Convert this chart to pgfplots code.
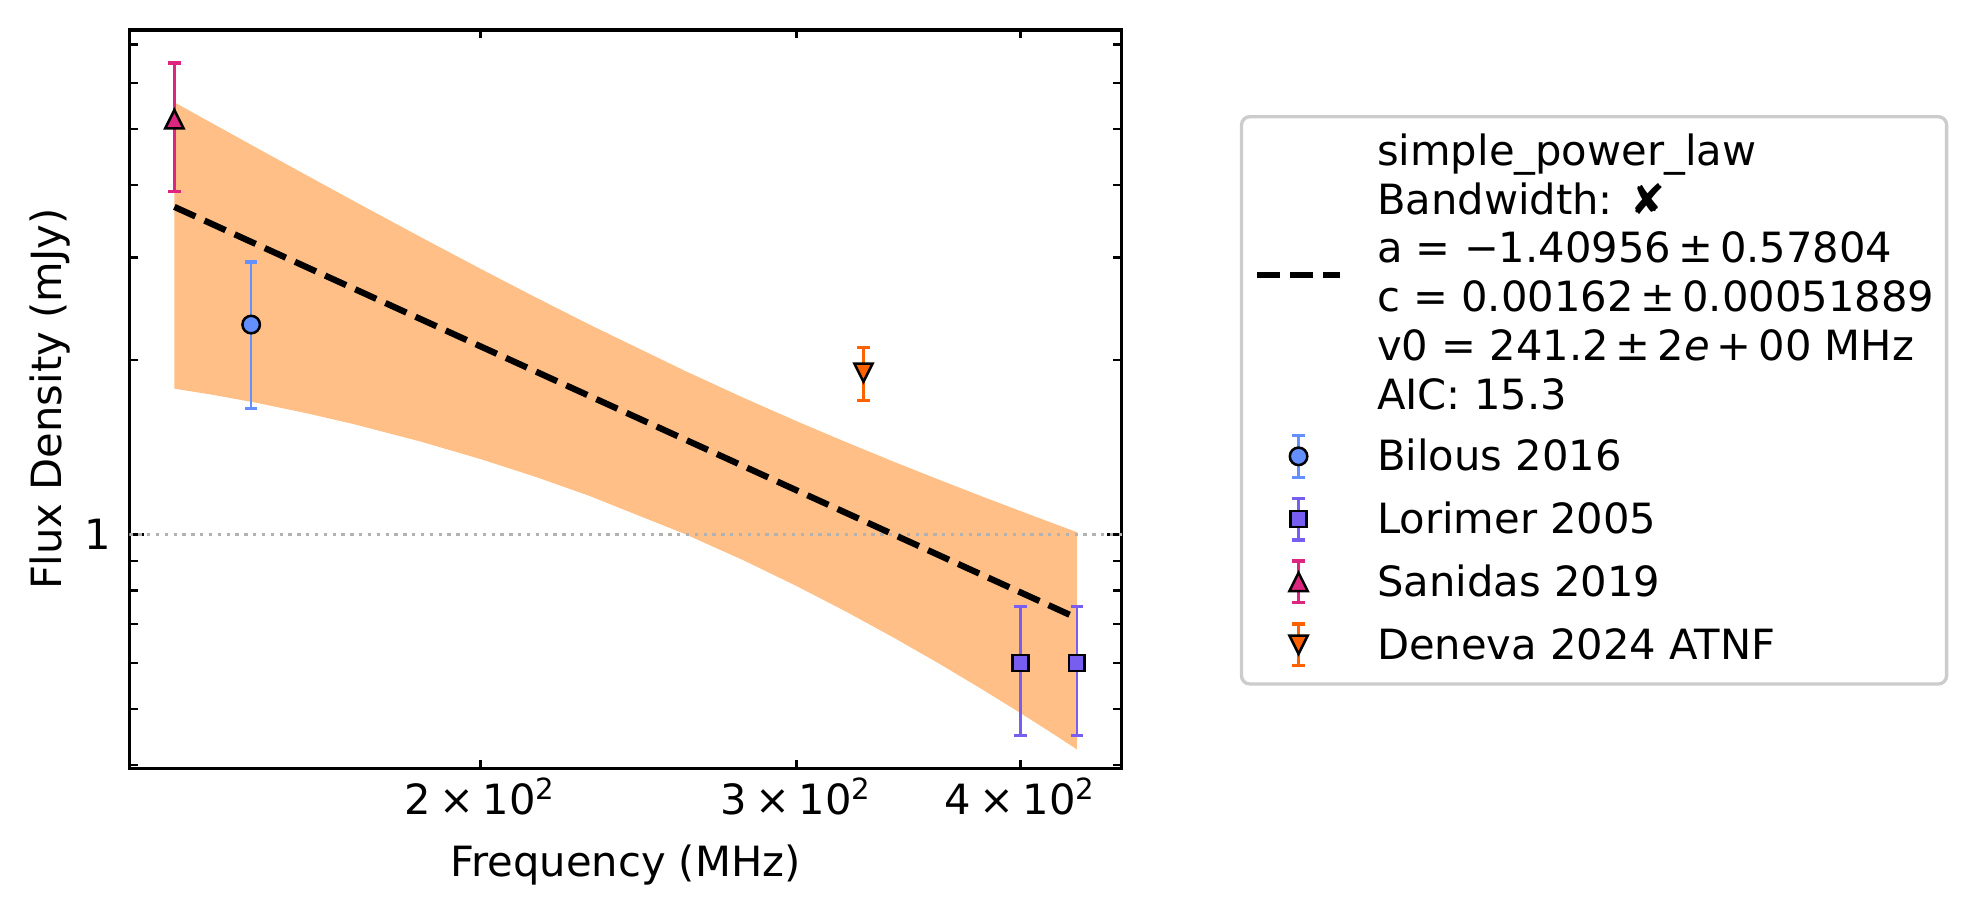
\documentclass[border=0pt]{standalone}
\usepackage{fontspec}
\setmainfont{DejaVu Sans}
\usepackage{pgfplots}
\pgfplotsset{compat=1.18}

\definecolor{bandorange}{RGB}{255,191,134}
\definecolor{bilous}{HTML}{648FFF}
\definecolor{lorimer}{HTML}{785EF0}
\definecolor{sanidas}{HTML}{DC267F}
\definecolor{deneva}{HTML}{FE6100}
\definecolor{dotgray}{RGB}{178,178,178}
\definecolor{legendgray}{RGB}{204,204,204}

% matplotlib-style triangles: apex and base corners on a square of half-size r
\pgfdeclareplotmark{mtriup}{%
  \pgfpathmoveto{\pgfqpoint{0pt}{\pgfplotmarksize}}%
  \pgfpathlineto{\pgfqpoint{-\pgfplotmarksize}{-\pgfplotmarksize}}%
  \pgfpathlineto{\pgfqpoint{\pgfplotmarksize}{-\pgfplotmarksize}}%
  \pgfpathclose
  \pgfusepathqfillstroke}
\pgfdeclareplotmark{mtridown}{%
  \pgfpathmoveto{\pgfqpoint{0pt}{-\pgfplotmarksize}}%
  \pgfpathlineto{\pgfqpoint{-\pgfplotmarksize}{\pgfplotmarksize}}%
  \pgfpathlineto{\pgfqpoint{\pgfplotmarksize}{\pgfplotmarksize}}%
  \pgfpathclose
  \pgfusepathqfillstroke}

\renewcommand{\arraystretch}{0.975}

% legend handle: marker with a capped vertical error bar
\pgfplotsset{
  errhandle/.style={
    legend image code/.code={
      \draw[#1, line width=0.6bp, sharp corners] (10bp,-5bp) -- (10bp,5bp);
      \draw[#1, line width=0.8bp, sharp corners] (8.5bp,-5bp) -- (11.5bp,-5bp) (8.5bp,5bp) -- (11.5bp,5bp);
      \draw[mark repeat=2, mark phase=2, sharp corners] plot coordinates {(0bp,0bp) (10bp,0bp) (20bp,0bp)};
    }
  },
  errstyle/.style={
    error bars/.cd, y dir=both, y explicit,
    error bar style={line width=0.6bp, color=#1},
    error mark options={color=#1, line width=0.8bp, mark size=1.5bp, rotate=90},
  },
}

\begin{document}
\fontsize{10bp}{12bp}\selectfont
\begin{tikzpicture}
\useasboundingbox (0,0) rectangle (474.96bp,219.36bp);
\begin{axis}[
  at={(31.03bp,34.97bp)}, anchor=south west,
  scale only axis, width=238.18bp, height=177.17bp,
  xmode=log, ymode=log,
  xmin=127.42, xmax=455.55, ymin=0.3948, ymax=7.409,
  xtick={200,300,400},
  xticklabels={2\hspace{0.2em}×\hspace{0.2em}10\textsuperscript{2},3\hspace{0.2em}×\hspace{0.2em}10\textsuperscript{2},4\hspace{0.2em}×\hspace{0.2em}10\textsuperscript{2}},
  minor xtick={},
  ytick={1}, yticklabels={1},
  minor ytick={0.4,0.5,0.6,0.7,0.8,0.9,2,3,4,5,6,7},
  tick align=inside, xtick pos=both, ytick pos=both,
  major tick length=3.5bp, minor tick length=2bp,
  xtick style={/pgfplots/major tick length=2bp},
  every tick/.style={black, line width=0.8bp},
  every minor tick/.style={black, line width=0.6bp},
  axis line style={line width=0.8bp},
  xticklabel style={anchor=base, yshift=-11.2bp, inner sep=0pt},
  yticklabel style={anchor=east, xshift=-4.2bp, inner sep=0pt},
  xlabel={Frequency (MHz)},
  ylabel={Flux Density (mJy)},
  every axis x label/.style={at={(axis description cs:0.5,0)}, anchor=base, yshift=-26bp},
  every axis y label/.style={at={(axis description cs:-0.06814,0.5)}, anchor=base, rotate=90},
  legend cell align=left,
  legend style={
    at={(axis description cs:1.11899,0.88497)}, anchor=north west,
    draw=legendgray, line width=0.8bp, rounded corners=2bp, fill=white,
    inner xsep=2.94bp, inner ysep=2.93bp,
    column sep=8.1bp, row sep=2.07bp,
    nodes={inner sep=0pt, text height=10bp, text depth=3bp},
  },
]

% 1-sigma band of the power-law fit
\addplot[fill=bandorange, draw=none, forget plot] coordinates {
  (135,5.5590) (142,5.0988) (150,4.6428) (160,4.1609) (170,3.7565) (185,3.2623)
  (200,2.8708) (215,2.5561) (230,2.3000) (260,1.9139) (280,1.7224) (300,1.5677)
  (320,1.4404) (340,1.3338) (360,1.2431) (380,1.1649) (400,1.0966) (415,1.0506) (430,1.0085)
  (430,0.4257) (415,0.4572) (400,0.4916) (380,0.5423) (360,0.5993) (340,0.6631)
  (320,0.7347) (300,0.8145) (280,0.9032) (260,1.0009) (230,1.1646) (215,1.2540)
  (200,1.3482) (185,1.4467) (170,1.5486) (160,1.6174) (150,1.6856) (142,1.7390) (135,1.7832)
};

% reference level at 1 mJy
\addplot[dotgray, line width=0.8bp, dash pattern=on 0.8bp off 1.32bp, forget plot]
  coordinates {(127.42,1) (455.55,1)};

% best-fit simple power law
\addplot[black, line width=1.5bp, dash pattern=on 5.55bp off 2.4bp,
  legend image code/.code={\draw[black, line width=1.5bp, dash pattern=on 5.55bp off 2.4bp, sharp corners] (0bp,0bp) -- (20bp,0bp);}]
  coordinates {(135,3.6711) (200,2.1095) (300,1.1911) (430,0.7171)};
\addlegendentry[text height=8.73bp, text depth=61.29bp]{\begin{tabular}[t]{@{}l@{}}simple\_power\_law\\Bandwidth: ✘\\a = −1.40956\,±\,0.57804\\c = 0.00162\,±\,0.00051889\\v0 = 241.2\,±\,2\textit{e}\,+\,00 MHz\\AIC: 15.3\end{tabular}}

% measurements
\addplot[only marks, mark=*, mark size=2.1bp,
  mark options={fill=bilous, draw=black, line width=0.6bp, sharp corners},
  errhandle=bilous, errstyle=bilous]
  coordinates {(149,2.3) +- (0,0.65)};
\addlegendentry{Bilous 2016}

\addplot[only marks, mark=square*, mark size=1.9bp,
  mark options={fill=lorimer, draw=black, line width=0.6bp, sharp corners},
  errhandle=lorimer, errstyle=lorimer]
  coordinates {(400,0.6) +- (0,0.15) (430,0.6) +- (0,0.15)};
\addlegendentry{Lorimer 2005}

\addplot[only marks, mark=mtriup, mark size=2.2bp,
  mark options={fill=sanidas, draw=black, line width=0.6bp, sharp corners},
  errhandle=sanidas, errstyle=sanidas]
  coordinates {(135,5.2) +- (0,1.3)};
\addlegendentry{Sanidas 2019}

\addplot[only marks, mark=mtridown, mark size=2.2bp,
  mark options={fill=deneva, draw=black, line width=0.6bp, sharp corners},
  errhandle=deneva, errstyle=deneva]
  coordinates {(327,1.9) +- (0,0.2)};
\addlegendentry{Deneva 2024 ATNF}

\end{axis}
\end{tikzpicture}
\end{document}
